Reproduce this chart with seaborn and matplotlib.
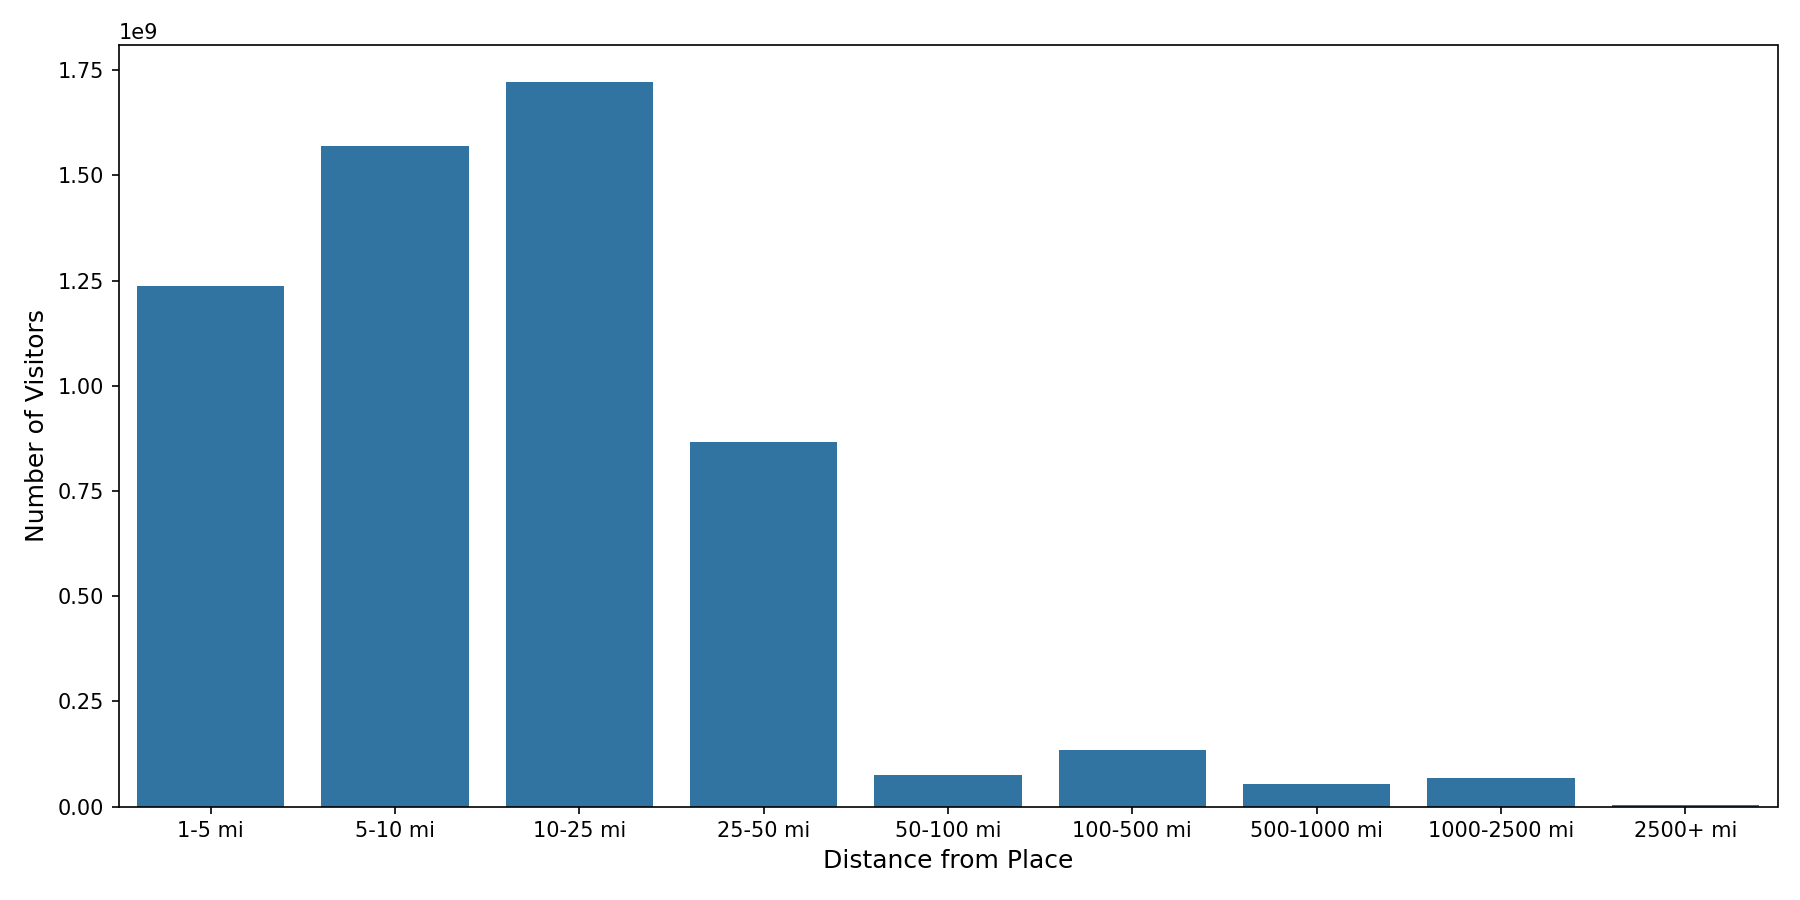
import seaborn as sns
import matplotlib.pyplot as plt
import pandas as pd

distances = ['1-5 mi', '5-10 mi', '10-25 mi', '25-50 mi', '50-100 mi',
             '100-500 mi', '500-1000 mi', '1000-2500 mi', '2500+ mi']
visitors = [1.238e9, 1.569e9, 1.723e9, 0.867e9, 0.0754e9,
            0.135e9, 0.054e9, 0.0683e9, 0.004e9]

df = pd.DataFrame({'Distance from Place': distances, 'Number of Visitors': visitors})

plt.figure(figsize=(12, 6))
sns.barplot(data=df, x='Distance from Place', y='Number of Visitors', color='#1f77b4')
plt.xlabel('Distance from Place', fontsize=12)
plt.ylabel('Number of Visitors', fontsize=12)
plt.tight_layout()
plt.savefig('out.png', dpi=150)
